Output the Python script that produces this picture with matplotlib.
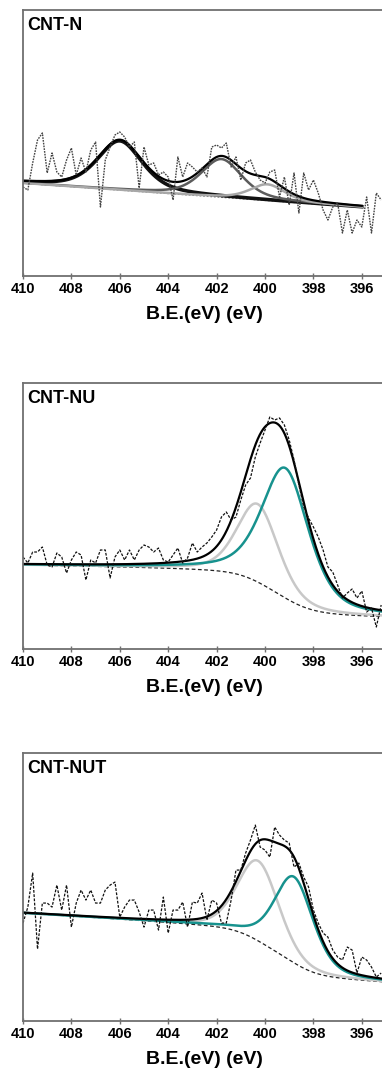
import numpy as np
import matplotlib.pyplot as plt

plt.rcParams['font.family'] = ['Liberation Sans', 'DejaVu Sans']
plt.rcParams['font.weight'] = 'bold'

# binding energy of the measured points (eV)
energy = np.linspace(410, 395.2, 75)

# raw N 1s intensities (a.u.)
raw_n = [89, 86, 113, 136, 143, 103, 123, 104, 99, 116, 128, 101, 118, 104, 126,
         134, 69, 116, 129, 141, 144, 139, 129, 134, 88, 129, 111, 113, 101, 104,
         99, 76, 119, 99, 113, 109, 104,
         108, 99, 129, 131, 128, 133, 109, 119, 96, 113, 116, 104, 96, 93, 104,
         106, 79, 99, 71, 103, 63, 103, 86, 96, 83, 66, 56, 69, 73, 43, 66, 43,
         56, 49, 79, 43, 83, 76]
raw_nu = [92, 86, 97, 97, 102, 84, 82, 96, 92, 76, 89, 97, 94, 69, 89, 86, 99, 99,
          71, 92, 99, 89, 99, 89, 99, 104, 102, 97, 101, 89, 87, 94, 101, 86, 91,
          106, 97,
          102, 106, 112, 119, 132, 137, 129, 132, 149, 164, 171, 192, 206, 219, 232,
          229, 231, 224, 209, 189, 164, 142, 131, 122, 112, 99, 82, 77, 64, 51, 56,
          60, 51, 58, 37, 41, 22, 44]
raw_nut = [98, 114, 148, 72, 118, 118, 114, 136, 111, 136, 94, 118, 131, 121, 131,
           118, 118, 131, 136, 139, 104, 114, 121, 121, 109, 94, 111, 111, 91, 124,
           88, 111, 111, 119, 94, 119, 118,
           128, 101, 121, 118, 98, 98, 121, 151, 151, 168, 181, 196, 174, 171, 164,
           194, 186, 181, 178, 154, 158, 144, 134, 111, 98, 88, 84, 71, 64, 61, 74,
           71, 48, 64, 61, 54, 44, 48]

# fitted components: centre (eV), height, FWHM (eV), lorentzian fraction
centers_n = [406.0, 401.8, 399.9]
heights_n = [49, 38, 16]
fwhm_n = [2.2, 2.0, 1.7]
eta_n = [0.5, 0.5, 0.5]

centers_nu = [400.3, 399.15]
heights_nu = [78, 130]
fwhm_nu = [2.0, 2.3]
eta_nu = [0.4, 0.5]

centers_nut = [400.28, 398.8]
heights_nut = [80, 86]
fwhm_nut = [2.0, 1.9]
eta_nut = [0.3, 0.4]

# background: value at 410 eV, value at the low-BE end, shirley step
bg_n = (93, 69, 0)
bg_nu = (84, 31.6, 47)
bg_nut = (108, 37.3, 48)

titles = ['CNT-N', 'CNT-NU', 'CNT-NUT']


def pseudo_voigt(e, c, h, w, eta):
    x = (e - c) / w
    g = np.exp(-4 * np.log(2) * x ** 2)
    l = 1 / (1 + 4 * x ** 2)
    return h * (eta * l + (1 - eta) * g)


def shirley(e, peaks, high, low, step):
    cum = np.cumsum(peaks[::-1])[::-1]
    frac = cum / cum[0]
    lin = low + (high - low - step) * (e - e[-1]) / (e[0] - e[-1])
    return lin + step * frac


fig = plt.figure(figsize=(3.82, 10.74), dpi=100)
boxes = [[0.0602, 0.7430, 0.9503, 0.2477],
         [0.0602, 0.3957, 0.9503, 0.2477],
         [0.0602, 0.0493, 0.9503, 0.2495]]
tops = [266, 266, 268]

panels = [
    (raw_n, centers_n, heights_n, fwhm_n, eta_n, bg_n, 396.0,
     ['#111111', '#5c5c5c', '#a8a8a8'], [2.6, 1.8, 1.8]),
    (raw_nu, centers_nu, heights_nu, fwhm_nu, eta_nu, bg_nu, 394.0,
     ['#c8c8c8', '#17928e'], [1.8, 1.8]),
    (raw_nut, centers_nut, heights_nut, fwhm_nut, eta_nut, bg_nut, 394.0,
     ['#c8c8c8', '#17928e'], [1.8, 1.8]),
]

for i, (raw, cen, hgt, wid, eta, bg, e_end, cols, lws) in enumerate(panels):
    ax = fig.add_axes(boxes[i])
    e = np.linspace(410, e_end, 801)
    comps = [pseudo_voigt(e, c, h, w, m) for c, h, w, m in zip(cen, hgt, wid, eta)]
    total = np.sum(comps, axis=0)
    back = shirley(e, total, *bg)

    if i == 0:
        ax.plot(e, back, color='#777777', lw=1.3, ls=(0, (1, 1)))
    else:
        ax.plot(e, back, color='#222222', lw=0.9, ls=(0, (3, 2)))
    for comp, col, lw in zip(comps, cols, lws):
        ax.plot(e, back + comp, color=col, lw=lw)
    ax.plot(e, back + total, color='black', lw=1.6)

    if i == 0:
        ax.plot(energy, raw, color='#444444', lw=1.0, ls=(0, (1.2, 0.8)))
    else:
        ax.plot(energy, raw, color='#111111', lw=0.9, ls=(0, (2.2, 1.2)))

    ax.set_xlim(410, 395)
    ax.set_ylim(0, tops[i])
    ax.set_xticks(np.arange(410, 395, -2))
    ax.set_yticks([])
    ax.tick_params(axis='x', direction='inout', length=5, width=1, color='#707070',
                   labelsize=10.5, pad=2)
    for s in ax.spines.values():
        s.set_color('#707070')
        s.set_linewidth(1.3)
    ax.set_xlabel('B.E.(eV) (eV)', fontsize=14, fontweight='bold', labelpad=7)
    ax.text(0.012, 0.975, titles[i], transform=ax.transAxes, fontsize=13,
            fontweight='bold', va='top', ha='left')

fig.savefig('out.png', dpi=100)
